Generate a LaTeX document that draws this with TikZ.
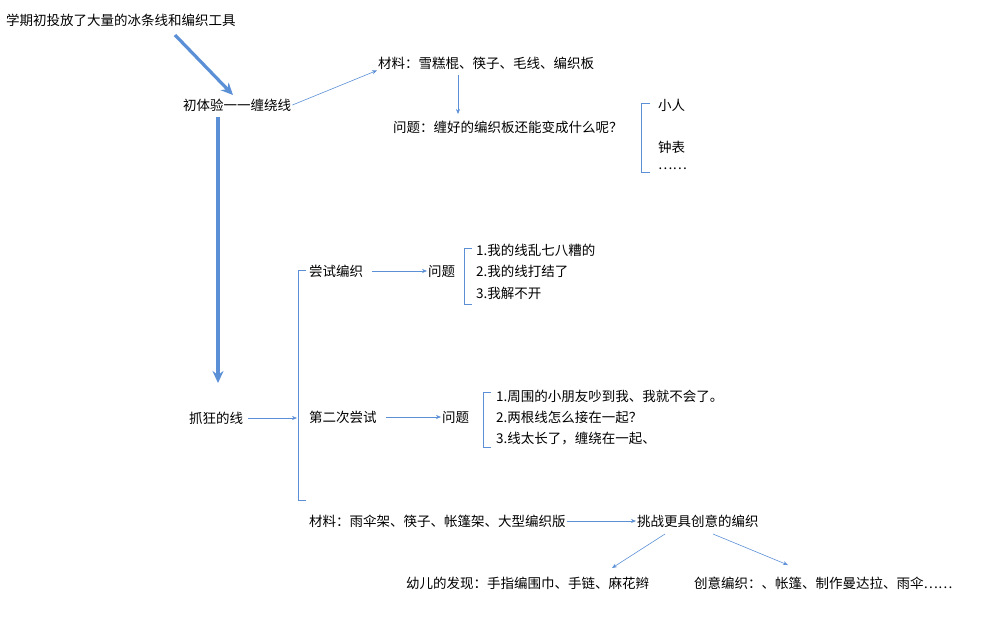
\documentclass[tikz,border=0pt]{standalone}
\usepackage{fontspec}
\setmainfont{Noto Sans CJK SC}
\usetikzlibrary{arrows.meta}
\definecolor{lineblue}{HTML}{5B8FD6}
\tikzset{
  txt/.style={inner sep=1pt, anchor=west, font=\fontsize{13.5}{15}\selectfont},
  thin/.style={-{Stealth[length=5pt,width=4pt]}, lineblue, line width=0.6pt},
  fat/.style={-{Stealth[length=12pt,width=11pt]}, lineblue, line width=3.2pt},
  brace/.style={lineblue, line width=0.9pt}
}
\begin{document}
\begin{tikzpicture}[x=1pt,y=-1pt]
    \useasboundingbox (0,0) rectangle (982,627);

    % Top part
    \node[txt] (start) at (5,20) {学期初投放了大量的冰条线和编织工具};
    \node[txt] (wind) at (182,105) {初体验一一缠绕线};
    \node[txt] (mat1) at (377,63) {材料：雪糕棍、筷子、毛线、编织板};
    \node[txt] (q1) at (392,127) {问题：缠好的编织板还能变成什么呢？};
    \draw[fat] (175,35) -- (233,95);
    \draw[thin] (wind.east) -- (mat1.south west);
    \draw[thin] (458,75) -- (458,114);

    % Answers
    \draw[brace] (650,103) -- (641,103) -- (641,172) -- (650,172);
    \node[txt] (a1) at (657,105) {小人};
    \node[txt] (a2) at (657,147) {钟表};
    \node[txt] (a3) at (657,169) {……};

    % Crazy threads
    \node[txt] (crazy) at (188,418) {抓狂的线};
    \draw[fat] (218,117) -- (218,383);
    \draw[brace] (306,270) -- (298,270) -- (298,500) -- (306,500);
    \coordinate (hub) at (297,418);
    \draw[thin] (crazy.east) ++(4,0) -- (hub);

    % First try
    \node[txt] (try1) at (308,271) {尝试编织};
    \node[txt] (p1) at (427,271) {问题};
    \draw[thin] (try1.east) ++(8,0) -- (p1.west);
    \draw[brace] (472,248) -- (464,248) -- (464,304) -- (472,304);
    \node[txt] (b1) at (475,250) {1.我的线乱七八糟的};
    \node[txt] (b2) at (475,271) {2.我的线打结了};
    \node[txt] (b3) at (475,293) {3.我解不开};

    % Second try
    \node[txt] (try2) at (308,417) {第二次尝试};
    \node[txt] (p2) at (441,417) {问题};
    \draw[thin] (try2.east) ++(8,0) -- (p2.west);
    \draw[brace] (491,392) -- (483,392) -- (483,447) -- (491,447);
    \node[txt] (c1) at (495,396) {1.周围的小朋友吵到我、我就不会了。};
    \node[txt] (c2) at (495,417) {2.两根线怎么接在一起？};
    \node[txt] (c3) at (495,438) {3.线太长了，缠绕在一起、};

    % Bottom part
    \node[txt] (mat2) at (308,521) {材料：雨伞架、筷子、帐篷架、大型编织版};
    \node[txt] (chal) at (636,521) {挑战更具创意的编织};
    \draw[thin] (mat2.east) -- (chal.west);
    \node[txt] (find) at (405,583) {幼儿的发现：手指编围巾、手链、麻花辫};
    \node[txt] (idea) at (693,583) {创意编织：、帐篷、制作曼达拉、雨伞……};
    \draw[thin] (665,534) -- (612,568);
    \draw[thin] (713,534) -- (788,565);
\end{tikzpicture}
\end{document}
